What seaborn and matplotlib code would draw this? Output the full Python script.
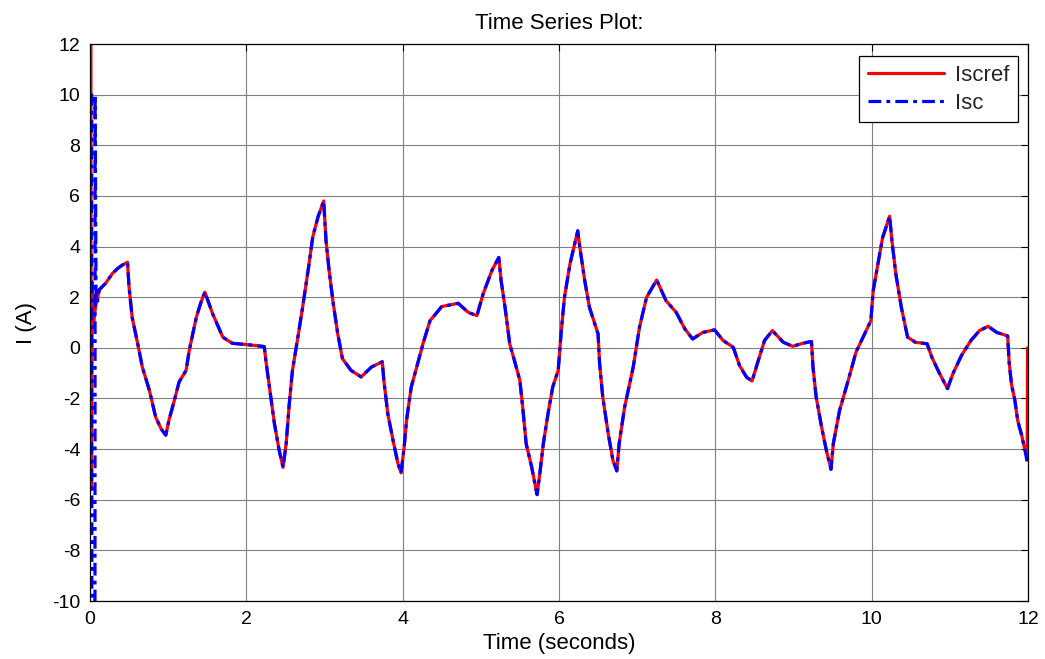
import numpy as np
import pandas as pd
import matplotlib
matplotlib.use("Agg")
import matplotlib.pyplot as plt
import seaborn as sns

# ---------------- data ----------------
# shared waveform (both signals overlap almost perfectly)
time_common = [0.12, 0.2, 0.29, 0.36, 0.42, 0.48, 0.5, 0.54, 0.61, 0.67,
               0.76, 0.84, 0.91, 0.97, 1.01, 1.08, 1.14, 1.23, 1.27, 1.36,
               1.42, 1.47, 1.57, 1.70, 1.82, 2.0, 2.23, 2.25, 2.29, 2.36,
               2.42, 2.47, 2.51, 2.55, 2.59, 2.66, 2.72, 2.79, 2.85, 2.92,
               2.99, 3.02, 3.06, 3.11, 3.17, 3.23, 3.34, 3.47, 3.6, 3.74,
               3.76, 3.81, 3.88, 3.94, 3.98, 4.02, 4.05, 4.11, 4.18, 4.26,
               4.35, 4.5, 4.71, 4.84, 4.95, 5.03, 5.14, 5.23, 5.26, 5.31,
               5.37, 5.43, 5.5, 5.54, 5.58, 5.65, 5.72, 5.75, 5.8, 5.86,
               5.92, 5.99, 6.03, 6.07, 6.14, 6.24, 6.27, 6.33, 6.39, 6.5,
               6.52, 6.56, 6.63, 6.69, 6.74, 6.77, 6.84, 6.95, 7.03, 7.12,
               7.25, 7.37, 7.5, 7.61, 7.71, 7.84, 7.99, 8.1, 8.23, 8.31,
               8.4, 8.47, 8.55, 8.63, 8.73, 8.87, 8.99, 9.12, 9.23, 9.25,
               9.29, 9.36, 9.42, 9.48, 9.51, 9.59, 9.7, 9.8, 9.91, 9.99,
               10.02, 10.08, 10.14, 10.23, 10.26, 10.31, 10.38, 10.46, 10.56, 10.71,
               10.77, 10.87, 10.97, 11.04, 11.15, 11.27, 11.38, 11.49, 11.6, 11.74,
               11.76, 11.79, 11.83, 11.87, 11.92, 11.96]
current_common = [2.3, 2.55, 2.95, 3.15, 3.28, 3.38, 2.4, 1.2, 0.17, -0.76,
                  -1.68, -2.73, -3.2, -3.45, -2.86, -2.07, -1.35, -0.89, -0.1, 1.2,
                  1.8, 2.2, 1.34, 0.42, 0.18, 0.13, 0.05, -0.5, -1.4, -3.0,
                  -4.04, -4.72, -3.78, -2.2, -0.9, 0.42, 1.6, 3.04, 4.38, 5.2,
                  5.8, 4.22, 3.04, 1.8, 0.55, -0.43, -0.89, -1.15, -0.76, -0.55,
                  -1.3, -2.6, -3.7, -4.57, -4.94, -3.91, -2.86, -1.55, -0.76, 0.16,
                  1.07, 1.63, 1.76, 1.4, 1.27, 2.13, 3.04, 3.57, 2.65, 1.6,
                  0.16, -0.5, -1.29, -2.47, -3.78, -4.7, -5.8, -5.09, -3.78, -2.6,
                  -1.55, -0.89, 0.68, 1.99, 3.3, 4.62, 3.9, 2.65, 1.6, 0.55,
                  -0.63, -1.94, -3.39, -4.44, -4.86, -3.78, -2.34, -0.76, 0.81, 1.99,
                  2.68, 1.86, 1.4, 0.75, 0.35, 0.61, 0.71, 0.29, 0.02, -0.7,
                  -1.16, -1.31, -0.5, 0.29, 0.68, 0.22, 0.06, 0.18, 0.25, -0.76,
                  -1.94, -3.13, -4.04, -4.8, -3.78, -2.47, -1.29, -0.17, 0.55, 1.07,
                  2.26, 3.3, 4.35, 5.2, 4.22, 2.91, 1.6, 0.42, 0.22, 0.16,
                  -0.37, -1.02, -1.61, -1.02, -0.3, 0.29, 0.68, 0.85, 0.61, 0.47,
                  -0.6, -1.46, -2.03, -2.89, -3.46, -4.03]

# start-up transients and end points that differ between the two signals
iscref_head_t = [0.012, 0.016, 0.026, 0.045, 0.07]
iscref_head_i = [12.0, -5.6, 2.6, 0.9, 1.6]
iscref_tail_t = [11.99, 11.995]
iscref_tail_i = [-4.25, 0.0]

isc_head_t = [0.0, 0.022, 0.024, 0.064, 0.066, 0.078, 0.095]
isc_head_i = [10.0, 10.0, -10.0, -10.0, 10.0, 2.0, 1.8]
isc_tail_t = [11.99]
isc_tail_i = [-4.5]

series_names = ["Iscref", "Isc"]
x_ticks = [0, 2, 4, 6, 8, 10, 12]
y_ticks = [-10, -8, -6, -4, -2, 0, 2, 4, 6, 8, 10, 12]

assert len(time_common) == len(current_common)

df_ref = pd.DataFrame({"t": iscref_head_t + time_common + iscref_tail_t,
                       "i": iscref_head_i + current_common + iscref_tail_i})
df_sc = pd.DataFrame({"t": isc_head_t + time_common + isc_tail_t,
                      "i": isc_head_i + current_common + isc_tail_i})

# ---------------- style ----------------
sns.set_theme(style="whitegrid")
plt.rcParams["font.family"] = ["Liberation Sans", "DejaVu Sans"]
plt.rcParams["axes.unicode_minus"] = False

fig = plt.figure(figsize=(10.45, 6.59), dpi=100)
ax = fig.add_axes([0.0861, 0.0880, 0.8976, 0.8452])
ax.set_facecolor("white")

sns.lineplot(data=df_ref, x="t", y="i", ax=ax, color="#ff0000", linewidth=2.3,
             sort=False, estimator=None, label=series_names[0])
sns.lineplot(data=df_sc, x="t", y="i", ax=ax, color="#0000ff", linewidth=2.3,
             sort=False, estimator=None, label=series_names[1])
ax.lines[-1].set_dashes([4.0, 1.6, 1.2, 1.6])

ax.set_xlim(0, 12)
ax.set_ylim(-10, 12)
ax.set_xticks(x_ticks)
ax.set_yticks(y_ticks)

ax.grid(True, color="#808080", linewidth=0.8)
for s in ax.spines.values():
    s.set_color("black")
    s.set_linewidth(0.9)
    s.set_visible(True)

ax.tick_params(direction="in", top=True, right=True, length=5, width=0.8,
               color="black", labelsize=14, labelcolor="black", pad=7)

ax.set_title("Time Series Plot:", fontsize=16, color="black", pad=11)
ax.set_xlabel("Time (seconds)", fontsize=16, color="black", labelpad=4)
ax.set_ylabel("I (A)", fontsize=16, color="black", labelpad=11)

leg = ax.legend(loc="upper right", bbox_to_anchor=(1018 / 1045, 1 - 56 / 659),
                bbox_transform=fig.transFigure, borderaxespad=0,
                fontsize=16, frameon=True, fancybox=False, shadow=False,
                handlelength=3.4, handletextpad=0.5, labelspacing=0.3,
                borderpad=0.4)
leg.get_frame().set_edgecolor("black")
leg.get_frame().set_linewidth(0.9)
leg.get_frame().set_alpha(1)
for h in leg.get_lines():
    h.set_linewidth(2.3)
leg.get_lines()[1].set_dashes([4.0, 1.6, 1.2, 1.6])

fig.savefig("out.png", dpi=100, facecolor="white")
